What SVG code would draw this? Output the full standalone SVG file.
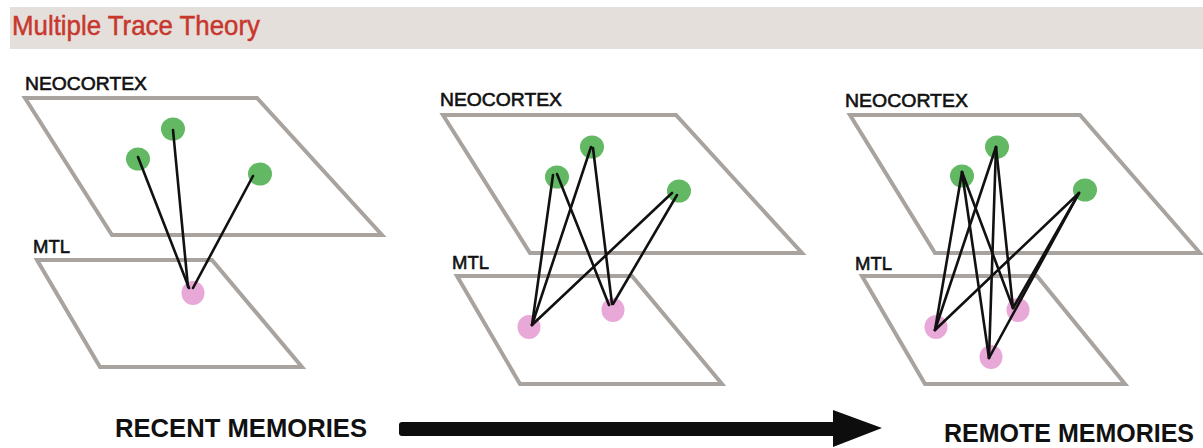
<svg xmlns="http://www.w3.org/2000/svg" width="1203" height="448" viewBox="0 0 1203 448">
<style>
.plane{fill:none;stroke:#a8a39e;stroke-width:4;stroke-linejoin:miter}
.lbl{font-family:"Liberation Sans",Arial,sans-serif;font-size:19px;fill:#111;stroke:#111;stroke-width:0.6}
.big{font-family:"Liberation Sans",Arial,sans-serif;font-size:26px;font-weight:bold;fill:#111}
.g{fill:#63b863}
.p{fill:#e8a8d8}
.c{stroke:#111;stroke-width:2.6;stroke-linecap:round;fill:none}
</style>
<rect width="1203" height="448" fill="#ffffff"/>
<g id="header">
<rect x="10" y="7" width="1193" height="42" fill="#e4dfdb"/>
<text x="12" y="35" font-family="'Liberation Sans',Arial,sans-serif" font-size="28" fill="#c8372d" stroke="#c8372d" stroke-width="0.5" textLength="248" lengthAdjust="spacingAndGlyphs">Multiple Trace Theory</text>
</g>
<g id="panel1">
<text class="lbl" x="25" y="90" textLength="122" lengthAdjust="spacingAndGlyphs">NEOCORTEX</text>
<polygon class="plane" points="25,98 257,98 382,235 112,235"/>
<text class="lbl" x="33" y="253" textLength="37" lengthAdjust="spacingAndGlyphs">MTL</text>
<polygon class="plane" points="37,260 212,260 302,367 100,367"/>
</g>
<g id="panel2">
<text class="lbl" x="440" y="106" textLength="122" lengthAdjust="spacingAndGlyphs">NEOCORTEX</text>
<polygon class="plane" points="443,115 676,115 802,253 530,253"/>
<text class="lbl" x="452" y="269" textLength="37" lengthAdjust="spacingAndGlyphs">MTL</text>
<polygon class="plane" points="457,276 632,276 722,384 520,384"/>
</g>
<g id="panel3">
<text class="lbl" x="845" y="107" textLength="123" lengthAdjust="spacingAndGlyphs">NEOCORTEX</text>
<polygon class="plane" points="850,115 1080,115 1200,253 935,253"/>
<text class="lbl" x="855" y="270" textLength="37" lengthAdjust="spacingAndGlyphs">MTL</text>
<polygon class="plane" points="862,276 1037,276 1125,384 925,384"/>
</g>
<g id="nodes1">
<ellipse id="n1a" class="g" cx="138" cy="159" rx="12" ry="11.5"/>
<ellipse id="n1b" class="g" cx="173" cy="129" rx="12" ry="11.5"/>
<ellipse id="n1c" class="g" cx="260" cy="174" rx="12" ry="11.5"/>
<ellipse id="m1a" class="p" cx="193" cy="293" rx="11.5" ry="12"/>
</g>
<g id="nodes2">
<ellipse id="n2a" class="g" cx="557" cy="177" rx="12" ry="11.5"/>
<ellipse id="n2b" class="g" cx="592" cy="147" rx="12" ry="11.5"/>
<ellipse id="n2c" class="g" cx="679" cy="191" rx="12" ry="11.5"/>
<ellipse id="m2a" class="p" cx="529" cy="327" rx="11.5" ry="12"/>
<ellipse id="m2b" class="p" cx="613" cy="310" rx="11.5" ry="12"/>
</g>
<g id="nodes3">
<ellipse id="n3a" class="g" cx="962" cy="176" rx="12" ry="11.5"/>
<ellipse id="n3b" class="g" cx="997" cy="147" rx="12" ry="11.5"/>
<ellipse id="n3c" class="g" cx="1085" cy="190" rx="12" ry="11.5"/>
<ellipse id="m3a" class="p" cx="936" cy="327" rx="11.5" ry="12"/>
<ellipse id="m3b" class="p" cx="1018" cy="310" rx="11.5" ry="12"/>
<ellipse id="m3c" class="p" cx="991" cy="357" rx="11.5" ry="12"/>
</g>
<g id="connectors">
<line class="c" x1="138" y1="157" x2="189" y2="288"/>
<line class="c" x1="173" y1="130" x2="188" y2="287"/>
<line class="c" x1="253" y1="176" x2="193" y2="288"/>
<line class="c" x1="553" y1="175" x2="532" y2="325"/>
<line class="c" x1="557" y1="174" x2="609" y2="305"/>
<line class="c" x1="591" y1="147" x2="532" y2="325"/>
<line class="c" x1="593" y1="148" x2="612" y2="304"/>
<line class="c" x1="672" y1="193" x2="532" y2="325"/>
<line class="c" x1="677" y1="195" x2="613" y2="304"/>
<line class="c" x1="962" y1="172" x2="935" y2="330"/>
<line class="c" x1="962" y1="172" x2="1013" y2="308"/>
<line class="c" x1="962" y1="172" x2="989" y2="358"/>
<line class="c" x1="996" y1="147" x2="935" y2="330"/>
<line class="c" x1="996" y1="147" x2="1013" y2="308"/>
<line class="c" x1="996" y1="147" x2="989" y2="358"/>
<line class="c" x1="1079" y1="193" x2="935" y2="330"/>
<line class="c" x1="1079" y1="193" x2="1013" y2="308"/>
<line class="c" x1="1078" y1="195" x2="989" y2="358"/>
</g>
<g id="timeline">
<text class="big" x="115" y="437" textLength="252" lengthAdjust="spacingAndGlyphs">RECENT MEMORIES</text>
<path d="M402,422 L833,422 L833,410 L882,428 L833,447 L833,436 L402,436 Q399,436 399,433 L399,425 Q399,422 402,422 Z" fill="#0d0d0d"/>
<text class="big" x="944" y="442" font-size="25" textLength="250" lengthAdjust="spacingAndGlyphs" style="font-size:25px">REMOTE MEMORIES</text>
</g>
</svg>
